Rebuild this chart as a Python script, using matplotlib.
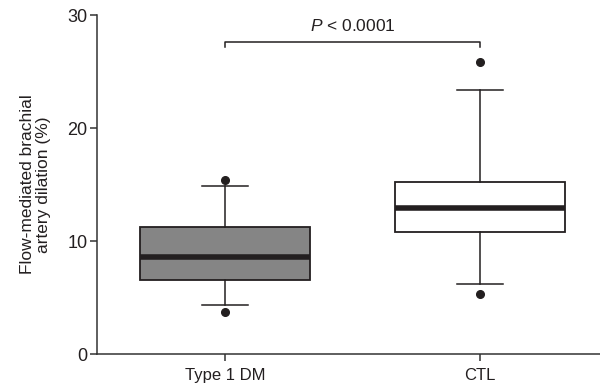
import matplotlib
matplotlib.use('Agg')
import matplotlib.pyplot as plt

plt.rcParams['font.family'] = ['Liberation Sans Narrow', 'Liberation Sans', 'DejaVu Sans']
plt.rcParams['mathtext.fontset'] = 'custom'
plt.rcParams['mathtext.rm'] = 'Liberation Sans'
plt.rcParams['mathtext.it'] = 'Liberation Sans:italic'

# Box plot summary values
groups = ['Type 1 DM', 'CTL']
q1 = [6.55, 10.8]
med = [8.6, 12.9]
q3 = [11.25, 15.2]
whislo = [4.3, 6.2]
whishi = [14.9, 23.4]
fliers = [[15.4, 3.75], [25.85, 5.3]]
box_colors = ['#858585', '#ffffff']
p_text = r'$P$ < 0.0001'

stats = []
for i in range(len(groups)):
    stats.append(dict(label=groups[i], q1=q1[i], med=med[i], q3=q3[i],
                      whislo=whislo[i], whishi=whishi[i], fliers=fliers[i]))

fig = plt.figure(figsize=(6, 3.9), dpi=100)
ax = fig.add_axes([0.162, 0.0923, 0.838, 0.8692])

edge = '#231f20'
bp = ax.bxp(stats, positions=[0, 1], widths=0.667, patch_artist=True,
            boxprops=dict(edgecolor=edge, linewidth=1.3),
            medianprops=dict(color=edge, linewidth=4.0, solid_capstyle='butt'),
            whiskerprops=dict(color=edge, linewidth=1.1),
            capprops=dict(color=edge, linewidth=1.1),
            capwidths=0.18,
            flierprops=dict(marker='o', markerfacecolor=edge, markeredgecolor=edge,
                            markersize=5.5))
for patch, c in zip(bp['boxes'], box_colors):
    patch.set_facecolor(c)

ax.set_xlim(-0.5, 1.47)
ax.set_ylim(0, 30)
ax.set_yticks([0, 10, 20, 30])
ax.set_xticks([0, 1])
ax.set_xticklabels(groups)
ax.spines['top'].set_visible(False)
ax.spines['right'].set_visible(False)
for s in ['left', 'bottom']:
    ax.spines[s].set_color('#333333')
    ax.spines[s].set_linewidth(1.1)
ax.tick_params(axis='both', direction='out', length=5, width=1.1, color='#333333',
               labelsize=12, labelcolor='#231f20')
ax.tick_params(axis='y', pad=2, labelsize=13)
ax.tick_params(axis='x', pad=5)

ax.set_ylabel('Flow-mediated brachial\nartery dilation (%)', fontsize=12.5,
              color='#231f20', labelpad=12, linespacing=1.05)

# significance bracket
ax.plot([0, 0, 1, 1], [27.2, 27.6, 27.6, 27.2], color=edge, linewidth=1.1, clip_on=False)
ax.text(0.5, 28.3, p_text, ha='center', va='bottom', fontsize=12.5, color='#231f20')

fig.savefig('out.png', dpi=100)
